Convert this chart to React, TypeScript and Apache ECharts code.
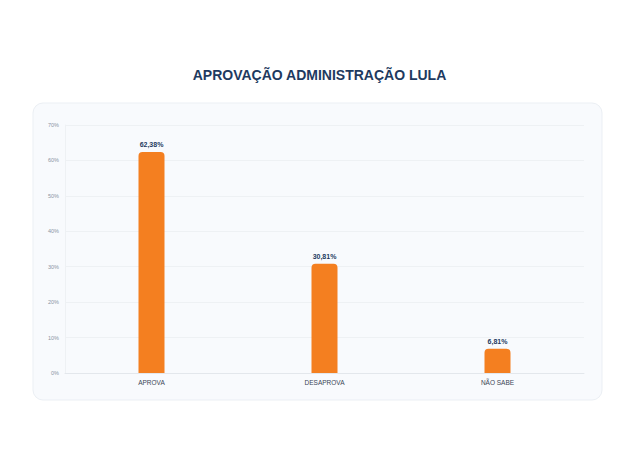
import React, { useEffect, useRef } from "react";
import * as echarts from "echarts";

const categories = ["APROVA", "DESAPROVA", "NÃO SABE"];
const values = [62.38, 30.81, 6.81];
const titleText = "APROVAÇÃO ADMINISTRAÇÃO LULA";

export default function App() {
  const ref = useRef<HTMLDivElement>(null);
  useEffect(() => {
    if (!ref.current) return;
    const chart = echarts.init(ref.current, undefined, { renderer: "svg" });
    chart.setOption({
      animation: false,
      backgroundColor: "#ffffff",
      title: {
        text: titleText,
        left: "center",
        top: 63,
        textStyle: {
          fontFamily: "Liberation Sans, Arial, sans-serif",
          fontSize: 14,
          fontWeight: "bold",
          color: "#1e3a5f",
        },
      },
      graphic: [
        {
          type: "rect",
          z: -10,
          shape: { x: 33, y: 103, width: 569, height: 297, r: 10 },
          style: { fill: "#f8fafd", stroke: "#ebeff4", lineWidth: 1 },
          silent: true,
        },
      ],
      grid: { left: 65, right: 55, top: 125, bottom: 79, containLabel: false },
      xAxis: {
        type: "category",
        data: categories,
        axisLine: { show: true, lineStyle: { color: "#e3e7ec" } },
        axisTick: { show: false },
        axisLabel: {
          fontFamily: "Liberation Sans, Arial, sans-serif",
          fontSize: 6.5,
          color: "#3a4556",
          margin: 6,
        },
      },
      yAxis: {
        type: "value",
        min: 0,
        max: 70,
        interval: 10,
        axisLine: { show: true, lineStyle: { color: "#eef1f4" } },
        axisTick: { show: false },
        splitLine: { lineStyle: { color: "#eef1f4" } },
        axisLabel: {
          formatter: "{value}%",
          fontFamily: "Liberation Sans, Arial, sans-serif",
          fontSize: 5.5,
          color: "#8a94a3",
          margin: 6,
        },
      },
      series: [
        {
          type: "bar",
          data: values,
          barWidth: 26,
          itemStyle: { color: "#f47f20", borderRadius: [4, 4, 0, 0] },
          label: {
            show: true,
            position: "top",
            distance: 4,
            formatter: (p: any) => p.value.toFixed(2).replace(".", ",") + "%",
            fontFamily: "Liberation Sans, Arial, sans-serif",
            fontSize: 7,
            fontWeight: "bold",
            color: "#1e3a5f",
          },
        },
      ],
    });
    return () => chart.dispose();
  }, []);
  return (
    <div
      ref={ref}
      style={{ position: "fixed", left: 0, top: 0, width: 639, height: 452 }}
    />
  );
}
